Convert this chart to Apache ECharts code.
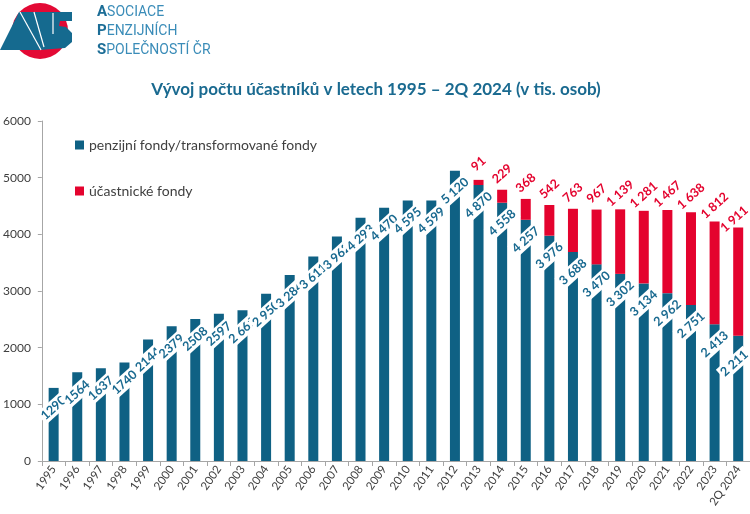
<!DOCTYPE html>
<html>
<head>
<meta charset="utf-8">
<script src="https://cdn.jsdelivr.net/npm/echarts@6/dist/echarts.min.js"></script>
<style>
html,body{margin:0;padding:0;background:#fff;}
#chart{width:750px;height:514px;}
</style>
</head>
<body>
<div id="chart"></div>
<script>
// ---- data ----
const categories = ['1995','1996','1997','1998','1999','2000','2001','2002','2003','2004','2005','2006','2007','2008','2009','2010','2011','2012','2013','2014','2015','2016','2017','2018','2019','2020','2021','2022','2023','2Q 2024'];
const penzijniFondy = [1290,1564,1637,1740,2144,2379,2508,2597,2661,2950,3284,3611,3962,4293,4470,4595,4599,5120,4870,4558,4257,3976,3688,3470,3302,3134,2962,2751,2413,2211];
const ucastnickeFondy = [null,null,null,null,null,null,null,null,null,null,null,null,null,null,null,null,null,null,91,229,368,542,763,967,1139,1281,1467,1638,1812,1911];
const yTicks = [0,1000,2000,3000,4000,5000,6000];
const seriesNames = ['penzijní fondy/transformované fondy','účastnické fondy'];
const plainLabelCount = 8; // first labels shown without thousands separator

const BLUE = '#0f6184';
const RED = '#e4032e';
const TXT = '#404040';

function fmtSpace(v){
  return String(v).replace(/\B(?=(\d{3})+(?!\d))/g, ' ');
}
// last label is nudged left to stay inside the chart, as in the original
const withEdgeNudge = arr => arr.map((v, i) =>
  i === arr.length - 1 ? {value:v, label:{offset:[-8, 3]}} : v);

const chart = echarts.init(document.getElementById('chart'), null, {renderer:'canvas'});

const logoText = (txt, top) => ({
  type:'text', left:97, top:top, z:12, style:{
    text:txt, rich:{
      a:{fontFamily:'Roboto', fontWeight:'bold', fontSize:15, fill:'#1c6d96'},
      b:{fontFamily:'Roboto', fontSize:14, fill:'#3a8cb8'}}}
});

const option = {
  backgroundColor:'#fff',
  animation:false,
  title:{
    text:'Vývoj počtu účastníků v letech 1995 – 2Q 2024 (v tis. osob)',
    left:371, textAlign:'center', top:76,
    textStyle:{fontFamily:'Lato', fontWeight:'bold', fontSize:17, color:'#1a6a90'}
  },
  legend:{
    orient:'vertical', left:70, top:133,
    itemWidth:9, itemHeight:9, itemGap:32,
    icon:'rect',
    data:seriesNames,
    textStyle:{fontFamily:'Lato', fontSize:14, color:TXT}
  },
  grid:{left:35, right:0, top:121, bottom:53, containLabel:false},
  xAxis:{
    type:'category', data:categories,
    axisLine:{lineStyle:{color:'#a6a6a6'}},
    axisTick:{show:true, length:5, lineStyle:{color:'#a6a6a6'}},
    axisLabel:{rotate:55, fontFamily:'Lato', fontSize:11.5, color:TXT, margin:6, interval:0}
  },
  yAxis:{
    type:'value', min:yTicks[0], max:yTicks[yTicks.length-1], interval:1000,
    splitLine:{show:false},
    axisLine:{show:true, lineStyle:{color:'#a6a6a6'}},
    axisTick:{show:true, length:4, lineStyle:{color:'#a6a6a6'}},
    axisLabel:{fontFamily:'Lato', fontSize:12, color:TXT, margin:11, formatter:v => String(v)}
  },
  series:[
    {
      name:seriesNames[0], type:'bar', stack:'s', data:withEdgeNudge(penzijniFondy),
      barWidth:10,
      itemStyle:{color:BLUE},
      label:{
        show:true, position:['50%',20], rotate:42, align:'center', verticalAlign:'middle',
        fontFamily:'Lato', fontWeight:'bold', fontSize:12.5, color:'#1a6a90',
        backgroundColor:'#fff', padding:[1,2],
        formatter:p => p.dataIndex < plainLabelCount ? String(p.value) : fmtSpace(p.value)
      }
    },
    {
      name:seriesNames[1], type:'bar', stack:'s', data:withEdgeNudge(ucastnickeFondy),
      barWidth:10,
      itemStyle:{color:RED},
      label:{
        show:true, position:['50%',-16], rotate:42, align:'center', verticalAlign:'middle',
        fontFamily:'Lato', fontWeight:'bold', fontSize:12.5, color:RED,
        formatter:p => p.value == null ? '' : fmtSpace(p.value)
      }
    }
  ],
  graphic:[
    {type:'circle', shape:{cx:40, cy:31, r:28}, style:{fill:'#e30a35'}, z:10},
    {type:'polygon', shape:{points:[[0,50],[19,12],[72,12],[72,21],[60,21],[59,26],[66,27],[72,33],[72,42],[65,48],[52,49],[40,50]]}, style:{fill:'#156a8f'}, z:11},
    {type:'line', shape:{x1:20,y1:12,x2:41,y2:50}, style:{stroke:'#fff', lineWidth:1.2}, z:12},
    {type:'line', shape:{x1:34,y1:12,x2:44,y2:47}, style:{stroke:'#fff', lineWidth:1.2}, z:12},
    {type:'line', shape:{x1:53,y1:13,x2:53,y2:34}, style:{stroke:'#fff', lineWidth:1.2}, z:12},
    logoText('{a|A}{b|SOCIACE}', 5),
    logoText('{a|P}{b|ENZIJNÍCH}', 24),
    logoText('{a|S}{b|POLEČNOSTÍ ČR}', 43)
  ]
};
chart.setOption(option);
</script>
</body>
</html>
